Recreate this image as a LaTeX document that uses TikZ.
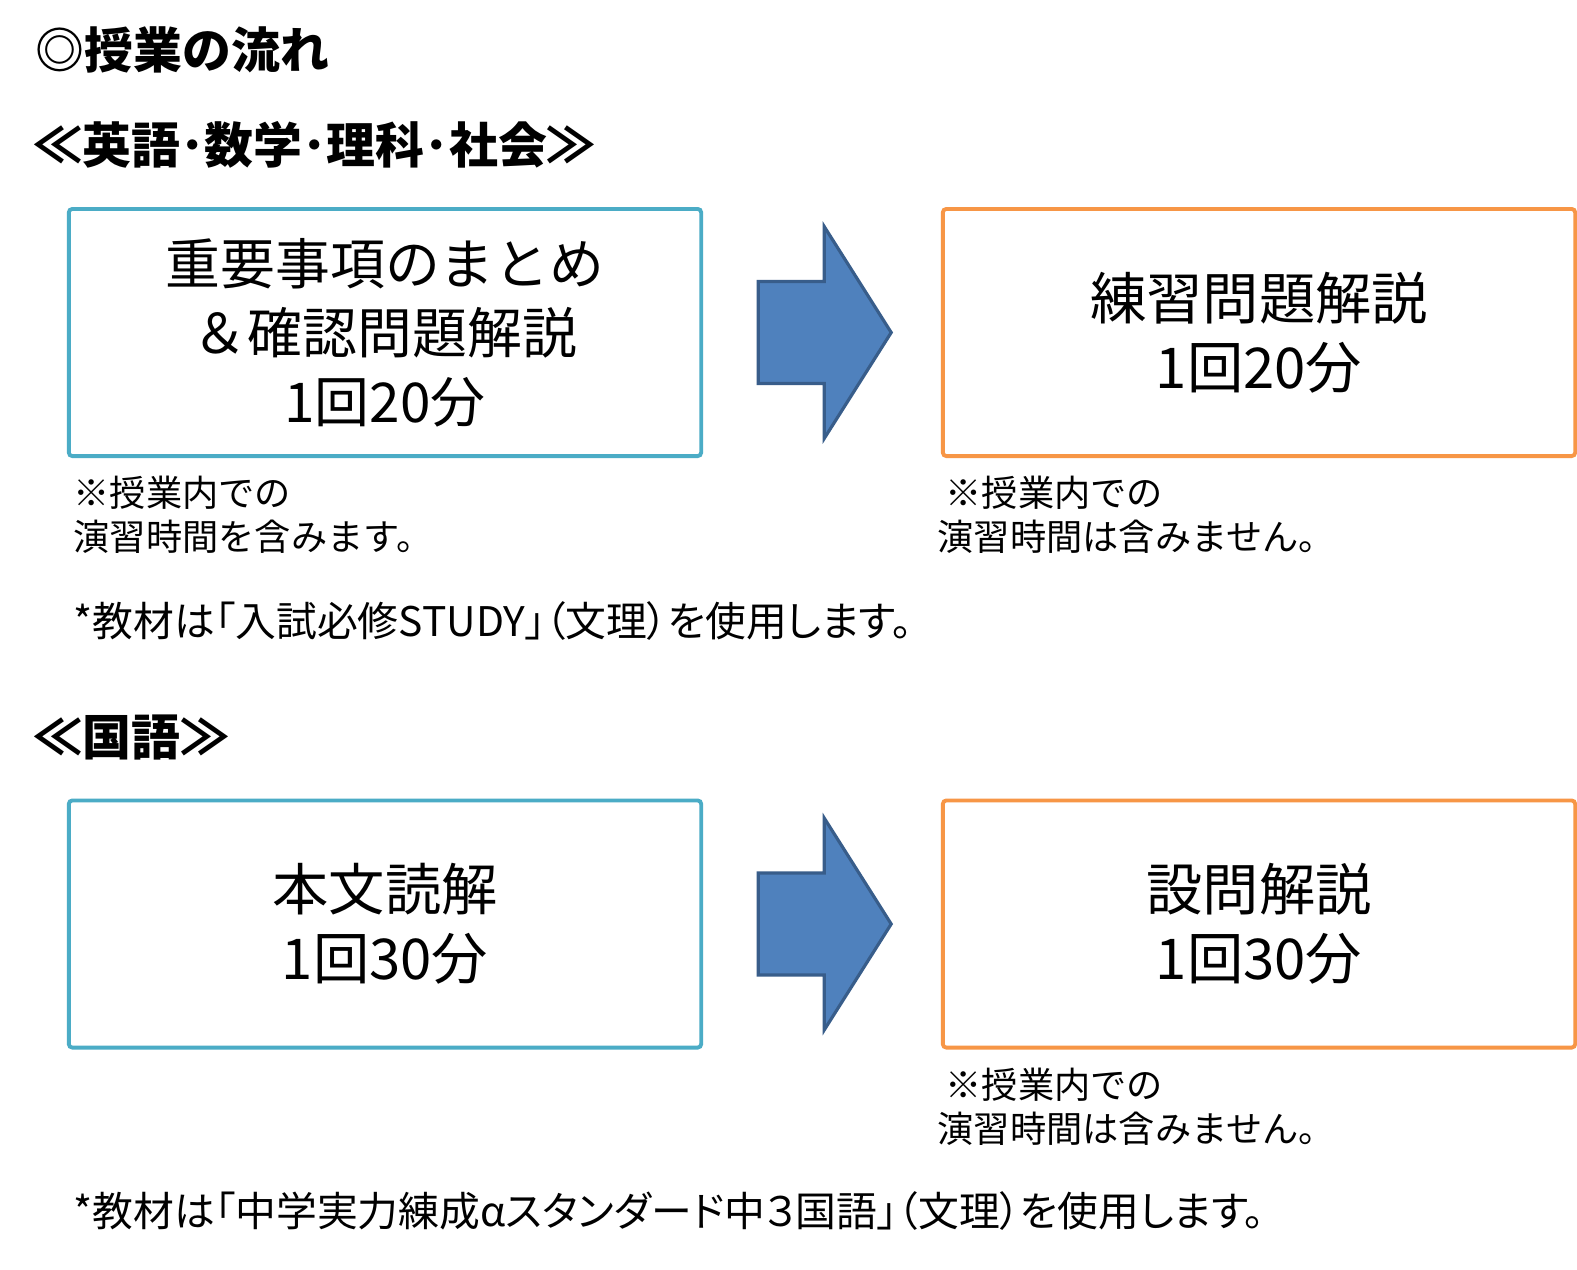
\documentclass[tikz,border=0pt]{standalone}
\usepackage{fontspec}
\setmainfont{Noto Sans CJK JP}
\newfontfamily\propfont{Noto Sans CJK JP}[RawFeature={+palt}]
\usetikzlibrary{positioning}

\definecolor{boxteal}{HTML}{4BACC6}
\definecolor{boxorange}{HTML}{F79646}
\definecolor{arrowfill}{HTML}{4F81BD}
\definecolor{arrowline}{HTML}{385D8A}

\tikzset{
  headline/.style={anchor=west,inner sep=0pt,font=\fontsize{13.9}{16}\selectfont\bfseries},
  stagebox/.style={draw,line width=1.1pt,outer sep=0pt,rounded corners=1pt,
    minimum width=6.32cm,minimum height=2.47cm,inner sep=0pt,align=center,
    font=\fontsize{16}{19.6}\selectfont},
  notetext/.style={anchor=west,inner sep=0pt,align=left,font=\fontsize{10.3}{12.5}\selectfont},
  booktext/.style={anchor=west,inner sep=0pt,font=\propfont\fontsize{11.6}{13.5}\selectfont},
  blockarrow/.style={fill=arrowfill,draw=arrowline,line width=0.9pt,line join=miter}
}

\begin{document}
\begin{tikzpicture}[x=0.01cm,y=-0.01cm]
  \path[use as bounding box,fill=white] (0,0) rectangle (1577,1269);
  %% Headings
  \node[headline] (title) at (35,50) {◎授業の流れ};
  \node[headline] (headA) at (33,145) {≪英語･数学･理科･社会≫};
  \node[headline] (headB) at (33,737) {≪国語≫};
  %% Stages
  \node[stagebox,draw=boxteal,font=\fontsize{15.6}{19.6}\selectfont] (summary) at (385,332.5) {重要事項のまとめ\\＆確認問題解説\\1回20分};
  \node[stagebox,draw=boxorange] (practice) at (1259,332.5) {練習問題解説\\1回20分};
  \node[stagebox,draw=boxteal] (reading) at (385,924) {本文読解\\1回30分};
  \node[stagebox,draw=boxorange] (questions) at (1259,924) {設問解説\\1回30分};
  %% Block arrows
  \foreach \src in {summary,reading}
    \draw[blockarrow] (\src.east) ++(57,-51) -- ++(66,0) -- ++(0,-55) -- ++(67,106)
      -- ++(-67,106) -- ++(0,-55) -- ++(-66,0) -- cycle;
  %% Notes
  \node[notetext] (noteA) at (73,515) {※授業内での\\演習時間を含みます。};
  \node[notetext] (noteB) at (937,515) {\hspace*{0.08cm}※授業内での\\演習時間は含みません。};
  \node[notetext] (noteC) at (937,1107) {\hspace*{0.08cm}※授業内での\\演習時間は含みません。};
  \node[booktext] (bookA) at (73,621) {*教材は「入試必修STUDY」（文理）を使用します。};
  \node[booktext] (bookB) at (73,1211) {*教材は「中学実力練成αスタンダード中３国語」（文理）を使用します。};
\end{tikzpicture}
\end{document}
